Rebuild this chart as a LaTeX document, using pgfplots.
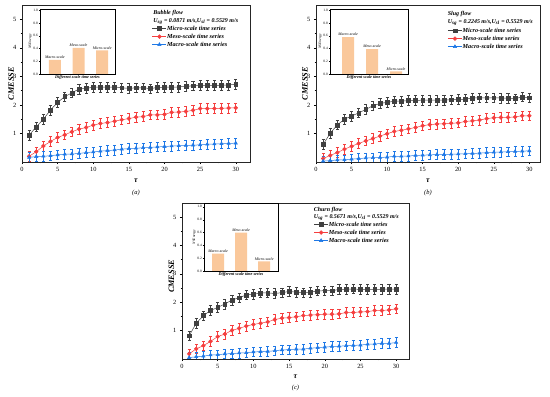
\documentclass[border=0pt]{standalone}
\usepackage{pgfplots}
\pgfplotsset{compat=1.18}
\usepackage{pgfplotstable}
\usepackage{fontspec}
\setmainfont{Liberation Serif}
\definecolor{cmi}{RGB}{64,64,64}
\definecolor{cme}{RGB}{245,62,62}
\definecolor{cma}{RGB}{30,120,230}
\definecolor{cbar}{RGB}{250,200,155}

\pgfplotstableread{
t mi me ma
1 0.94 0.20 0.16
2 1.23 0.36 0.19
3 1.50 0.56 0.20
4 1.82 0.72 0.22
5 2.09 0.86 0.25
6 2.29 0.95 0.27
7 2.42 1.06 0.28
8 2.56 1.15 0.30
9 2.58 1.21 0.33
10 2.62 1.29 0.35
11 2.62 1.35 0.38
12 2.62 1.38 0.40
13 2.63 1.43 0.42
14 2.60 1.48 0.45
15 2.58 1.52 0.47
16 2.60 1.57 0.48
17 2.60 1.59 0.50
18 2.57 1.65 0.51
19 2.61 1.65 0.53
20 2.62 1.67 0.54
21 2.62 1.74 0.56
22 2.63 1.75 0.57
23 2.65 1.77 0.58
24 2.67 1.81 0.59
25 2.68 1.87 0.60
26 2.68 1.87 0.62
27 2.68 1.87 0.63
28 2.69 1.88 0.64
29 2.70 1.89 0.65
30 2.72 1.90 0.66
}\dataA

\pgfplotstableread{
t mi me ma
1 0.61 0.12 0.03
2 1.01 0.23 0.05
3 1.30 0.33 0.07
4 1.50 0.45 0.08
5 1.61 0.55 0.10
6 1.72 0.65 0.12
7 1.84 0.74 0.14
8 1.97 0.82 0.15
9 2.05 0.91 0.16
10 2.09 0.99 0.17
11 2.13 1.07 0.20
12 2.13 1.11 0.20
13 2.15 1.16 0.21
14 2.15 1.21 0.23
15 2.17 1.27 0.24
16 2.17 1.31 0.25
17 2.17 1.33 0.26
18 2.17 1.34 0.26
19 2.18 1.36 0.27
20 2.19 1.37 0.28
21 2.20 1.42 0.29
22 2.24 1.44 0.30
23 2.25 1.47 0.31
24 2.25 1.52 0.33
25 2.25 1.55 0.34
26 2.24 1.56 0.35
27 2.24 1.56 0.36
28 2.22 1.58 0.37
29 2.28 1.62 0.38
30 2.25 1.62 0.39
}\dataB

\pgfplotstableread{
t mi me ma
1 0.82 0.18 0.05
2 1.26 0.36 0.08
3 1.53 0.47 0.10
4 1.71 0.62 0.14
5 1.82 0.79 0.15
6 1.94 0.88 0.18
7 2.08 1.01 0.19
8 2.16 1.08 0.21
9 2.26 1.16 0.22
10 2.28 1.22 0.25
11 2.33 1.26 0.26
12 2.33 1.31 0.27
13 2.31 1.39 0.29
14 2.34 1.44 0.32
15 2.38 1.46 0.33
16 2.36 1.49 0.35
17 2.34 1.53 0.35
18 2.36 1.55 0.38
19 2.40 1.56 0.40
20 2.41 1.58 0.42
21 2.41 1.58 0.44
22 2.45 1.59 0.45
23 2.46 1.64 0.47
24 2.47 1.64 0.48
25 2.45 1.66 0.49
26 2.45 1.67 0.52
27 2.45 1.71 0.53
28 2.46 1.71 0.55
29 2.46 1.73 0.55
30 2.46 1.77 0.58
}\dataC

\pgfplotstableread{
x y lab
1 0.22 Macro-scale
2 0.41 Meso-scale
3 0.37 Micro-scale
}\barA
\pgfplotstableread{
x y lab
1 0.58 Macro-scale
2 0.39 Meso-scale
3 0.04 Micro-scale
}\barB
\pgfplotstableread{
x y lab
1 0.27 Macro-scale
2 0.60 Meso-scale
3 0.15 Micro-scale
}\barC

\pgfplotsset{
  mainax/.style={
    scale only axis, xmin=0, ymin=0, ymax=5.5,
    xtick={0,5,...,30}, ytick={1,2,3,4,5},
    minor x tick num=1, minor y tick num=1,
    xtick pos=bottom, ytick pos=left, tick align=outside,
    major tick length=2.2bp, minor tick length=1.3bp,
    axis line style={line width=0.8pt, black!85},
    tick style={line width=0.5pt, black},
    ticklabel style={font=\fontsize{6.4}{7}\selectfont},
    /pgf/number format/assume math mode=true,
    xlabel={τ},
    xlabel style={font=\fontsize{8}{9}\selectfont\bfseries\itshape, at={(axis description cs:0.5,-0.122)}, anchor=center},
    ylabel={CMESSE},
    ylabel style={font=\fontsize{8.3}{9}\selectfont\bfseries\itshape, anchor=center},
    legend cell align=left,
    legend style={draw=none, fill=none, inner sep=0pt, row sep=1.6pt,
      font=\fontsize{6.2}{6.8}\selectfont\bfseries\itshape,
      nodes={inner sep=0.5pt, text height=4.2pt, text depth=1.2pt}},
    legend image code/.code={\draw[mark repeat=2,mark phase=2,#1] plot coordinates {(0bp,0bp)(7bp,0bp)(14bp,0bp)};},
  },
  ser/.style={color=#1, line width=0.5pt, mark size=1.9pt, mark options={fill=#1, solid},
    error bars/y dir=both, error bars/y fixed=0.17,
    error bars/error bar style={line width=0.55pt},
    error bars/error mark options={rotate=90, mark size=1.6pt, line width=0.55pt}},
  inset/.style={
    scale only axis, ymin=0, ymax=1.02,
    ytick={0,0.2,0.4,0.6,0.8,1.0}, xtick=\empty,
    ytick pos=left, tick align=outside, major tick length=1.2bp,
    axis line style={line width=0.45pt},
    tick style={line width=0.3pt, black},
    yticklabel style={font=\fontsize{3.5}{4}\selectfont, inner sep=0.8pt,
      /pgf/number format/.cd, fixed, fixed zerofill, precision=1},
    /pgf/number format/assume math mode=true,
    ylabel={NSEnergy},
    ylabel style={font=\fontsize{3.6}{4}\selectfont\itshape, inner sep=0.5pt},
    xlabel={Different scale time series},
    xlabel style={font=\fontsize{4.2}{4.6}\selectfont\bfseries\itshape, at={(axis description cs:0.5,0)}, anchor=north, yshift=-1.2bp, inner sep=0.5pt},
    ybar, bar width=12bp,
    nodes near coords, point meta=explicit symbolic,
    nodes near coords style={font=\fontsize{3.9}{4.3}\selectfont\itshape, inner sep=1pt},
  },
}

\begin{document}
\begin{tikzpicture}
\useasboundingbox (0bp,0bp) rectangle (550bp,397bp);

% ---------- (a) ----------
\begin{axis}[mainax, at={(22bp,235bp)}, anchor=south west, width=228bp, height=157bp, xmax=32,
  ylabel style={at={(axis description cs:-0.048,0.5)}},
  legend style={at={(axis description cs:0.57,0.871)}, anchor=north west}]
\addplot[ser=cmi, mark=square*] table[x=t,y=mi] {\dataA};
\addplot[ser=cme, mark=*] table[x=t,y=me] {\dataA};
\addplot[ser=cma, mark=triangle*] table[x=t,y=ma] {\dataA};
\legend{Micro-scale time series, Meso-scale time series, Macro-scale time series}
\node[anchor=north west, align=left, inner sep=0pt, font=\fontsize{6}{7.4}\selectfont\bfseries\itshape] at (axis description cs:0.575,0.965)
  {Bubble flow\\U\textsubscript{sg} = 0.0871 m/s,U\textsubscript{sl} = 0.5529 m/s};
\end{axis}
\begin{axis}[inset, at={(40bp,323bp)}, anchor=south west, width=75bp, height=65bp, xmin=0.375, xmax=3.54]
\addplot[fill=cbar, draw=none] table[x=x,y=y,meta=lab] {\barA};
\end{axis}
\node[font=\fontsize{6.5}{7}\selectfont\itshape] at (136bp,204bp) {(\textit{a})};

% ---------- (b) ----------
\begin{axis}[mainax, at={(316bp,235bp)}, anchor=south west, width=224bp, height=157bp, xmax=31.5,
  ylabel style={at={(axis description cs:-0.049,0.5)}},
  legend style={at={(axis description cs:0.587,0.858)}, anchor=north west}]
\addplot[ser=cmi, mark=square*] table[x=t,y=mi] {\dataB};
\addplot[ser=cme, mark=*] table[x=t,y=me] {\dataB};
\addplot[ser=cma, mark=triangle*] table[x=t,y=ma] {\dataB};
\legend{Micro-scale time series, Meso-scale time series, Macro-scale time series}
\node[anchor=north west, align=left, inner sep=0pt, font=\fontsize{6}{7.4}\selectfont\bfseries\itshape] at (axis description cs:0.588,0.959)
  {Slug flow\\U\textsubscript{sg} = 0.2245 m/s,U\textsubscript{sl} = 0.5529 m/s};
\end{axis}
\begin{axis}[inset, at={(330bp,323bp)}, anchor=south west, width=78bp, height=65bp, xmin=0.24, xmax=3.5]
\addplot[fill=cbar, draw=none] table[x=x,y=y,meta=lab] {\barB};
\end{axis}
\node[font=\fontsize{6.5}{7}\selectfont\itshape] at (428bp,204bp) {(\textit{b})};

% ---------- (c) ----------
\begin{axis}[mainax, at={(182bp,38bp)}, anchor=south west, width=227bp, height=156bp, xmax=31.8,
  ylabel style={at={(axis description cs:-0.047,0.53)}},
  xlabel style={at={(axis description cs:0.5,-0.115)}},
  legend style={at={(axis description cs:0.58,0.883)}, anchor=north west}]
\addplot[ser=cmi, mark=square*] table[x=t,y=mi] {\dataC};
\addplot[ser=cme, mark=*] table[x=t,y=me] {\dataC};
\addplot[ser=cma, mark=triangle*] table[x=t,y=ma] {\dataC};
\legend{Micro-scale time series, Meso-scale time series, Macro-scale time series}
\node[anchor=north west, align=left, inner sep=0pt, font=\fontsize{6}{6.6}\selectfont\bfseries\itshape] at (axis description cs:0.58,0.971)
  {Churn flow\\U\textsubscript{sg} = 0.5671 m/s,U\textsubscript{sl} = 0.5529 m/s};
\end{axis}
\begin{axis}[inset, at={(204bp,126bp)}, anchor=south west, width=74bp, height=68bp, xmin=0.39, xmax=3.6, ymax=1.06]
\addplot[fill=cbar, draw=none] table[x=x,y=y,meta=lab] {\barC};
\end{axis}
\node[font=\fontsize{6.5}{7}\selectfont\itshape] at (295.5bp,9.5bp) {(\textit{c})};
\end{tikzpicture}
\end{document}
